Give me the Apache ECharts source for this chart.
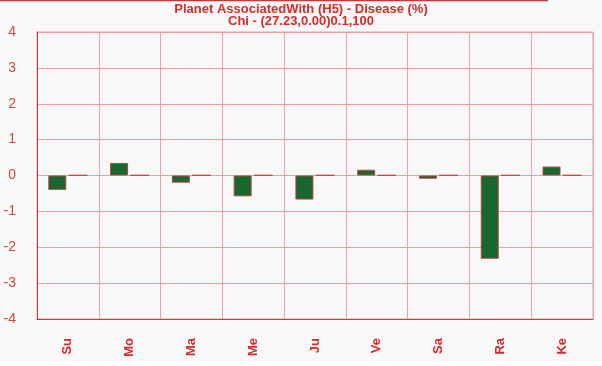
<!DOCTYPE html>
<html>
<head>
<meta charset="utf-8">
<script src="https://cdn.jsdelivr.net/npm/echarts@6/dist/echarts.min.js"></script>
<style>
html,body{margin:0;padding:0;background:#ffffff;}
#c{width:602px;height:366px;}
</style>
</head>
<body>
<div id="c"></div>
<script>
const titleText = "Planet AssociatedWith (H5) - Disease (%)";
const subText = "Chi - (27.23,0.00)0.1,100";
const categories = ["Su","Mo","Ma","Me","Ju","Ve","Sa","Ra","Ke"];
const diseaseValues = [-0.40, 0.35, -0.20, -0.58, -0.67, 0.16, -0.09, -2.32, 0.25];
const secondValues = [0.01, 0.01, 0.01, 0.01, 0.01, 0.01, 0.01, 0.01, 0.01];
const yMin = -4, yMax = 4, yStep = 1;

const titleStyle = {fontFamily:'Liberation Sans, Arial', fontSize: 13, fontWeight:'bold', color:'#d42b2b', lineHeight: 13};
const chart = echarts.init(document.getElementById('c'), null, {renderer:'canvas'});
chart.setOption({
  backgroundColor: '#f8f8f8',
  animation: false,
  title: [
    {text: titleText, left: 'center', top: 3, padding: 0, textStyle: titleStyle},
    {text: subText, left: 'center', top: 15, padding: 0, textStyle: titleStyle}
  ],
  graphic: [
    {type:'line', shape:{x1:0,y1:0.5,x2:548,y2:0.5}, style:{stroke:'#c43a3a', lineWidth:1.5}},
    {type:'rect', shape:{x:0,y:361,width:602,height:5}, style:{fill:'#ffffff'}}
  ],
  grid: {left: 37, right: 9, top: 32, bottom: 47, show: true, borderColor:'#eea0a8', borderWidth:1, backgroundColor:'transparent'},
  xAxis: {
    type: 'category',
    data: categories,
    axisLine: {show:true, onZero:false, lineStyle:{color:'#d03a3a', width:1}},
    axisTick: {show:false},
    splitLine: {show:true, interval:0, lineStyle:{color:'#eea0a8', width:1}},
    axisLabel: {rotate: 90, margin: 19, interval:0, fontFamily:'Liberation Sans, Arial', fontSize: 13, fontWeight:'bold', color:'#d42b2b'}
  },
  yAxis: {
    type: 'value',
    min: yMin, max: yMax, interval: yStep,
    axisLine: {show:true, lineStyle:{color:'#d03a3a', width:1}},
    axisTick: {show:false},
    splitLine: {show:true, lineStyle:{color:'#eea0a8', width:1}},
    axisLabel: {margin: 21, fontFamily:'Liberation Sans, Arial', fontSize: 14, color:'#d0453f'}
  },
  series: [
    {type:'bar', data: diseaseValues, barWidth: 18, barGap: '12%',
     itemStyle:{color:'#17672f', borderColor:'#b2473f', borderWidth:1}},
    {type:'bar', data: secondValues, barWidth: 19,
     itemStyle:{color:'#d04040', borderColor:'#d04040', borderWidth:1}}
  ]
});
</script>
</body>
</html>
